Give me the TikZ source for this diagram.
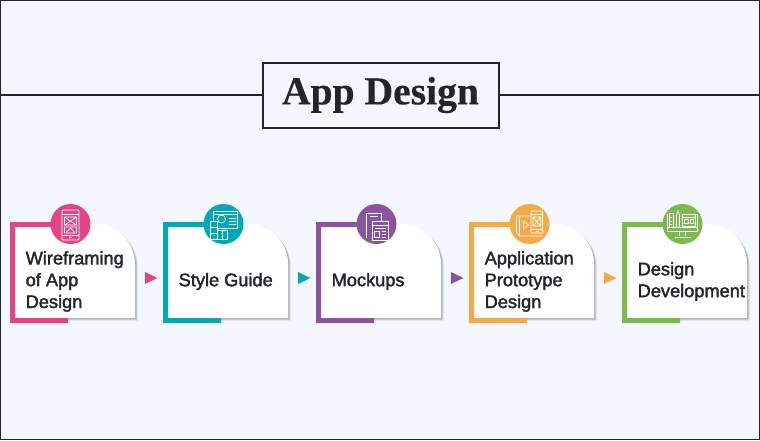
\documentclass[tikz,border=0pt]{standalone}
\usepackage{fontspec}
\setmainfont{Liberation Sans}
\newfontfamily\titlefont{Liberation Serif}[FakeBold=0.3]
\newfontfamily\stepfont{Liberation Sans}[FakeBold=2]
\usetikzlibrary{calc}
\definecolor{pagebg}{HTML}{F4F7FE}
\definecolor{inkdark}{HTML}{22262A}
\definecolor{stepA}{HTML}{E34486}
\definecolor{stepB}{HTML}{00A9B5}
\definecolor{stepC}{HTML}{8A559F}
\definecolor{stepD}{HTML}{F4AB47}
\definecolor{stepE}{HTML}{7FB84E}
\tikzset{
  steptext/.style={anchor=west,align=left,inner sep=0pt,text=inkdark,font=\stepfont\fontsize{18.2}{21.8}\selectfont},
  iconline/.style={draw=white,line width=0.7pt},
  badge/.style={circle,minimum size=40pt,inner sep=0pt},
}
\newcommand{\cardpath}{(5,224) -- (85,224) arc[start angle=-90,end angle=0,radius=40] -- (125,318) -- (5,318) -- cycle}
% icons, drawn round the middle of the badge
\newcommand{\iconA}{
  \draw[iconline,rounded corners=1pt] (-8.5,-14) rectangle (8.5,16);
  \draw[iconline] (-8.5,-10) -- (8.5,-10) (-8.5,11) -- (8.5,11);
  \draw[iconline] (-6,-7) rectangle (6,1) (-6,-7) -- (6,1) (-6,1) -- (6,-7);
  \draw[iconline] (-6,3) rectangle (6,9) (-4,8) -- (0,4) -- (4,8);
  \draw[iconline] (-1.5,13.5) -- (1.5,13.5);
}
\newcommand{\iconB}{
  \draw[iconline] (-10,-13) rectangle (14,4) (-10,-9.5) -- (14,-9.5);
  \draw[iconline] (5,-6) -- (12,-6) (5,-3) -- (12,-3) (5,0) -- (12,0);
  \draw[iconline] (-2,-5) circle (4);
  \draw[iconline,fill=stepB] (-13.5,-3) rectangle (-6,15);
  \draw[iconline] (-13.5,3) -- (-6,3) (-13.5,9) -- (-6,9);
  \draw[iconline,fill=stepB] (-6,6) rectangle (3.5,15) (-1,6) -- (-1,15);
}
\newcommand{\iconC}{
  \draw[iconline] (-10,14) -- (-10,-11) -- (5,-11) -- (5,-3);
  \draw[iconline] (-7,-8) -- (1,-8);
  \draw[iconline,fill=stepC] (-4.5,-3) rectangle (11.5,16);
  \draw[iconline] (-4.5,1) -- (11.5,1) (-2,4) -- (9,4);
  \draw[iconline] (-2,7) rectangle (3,13) (5,7) -- (9,7) (5,10) -- (9,10) (5,13) -- (9,13);
}
\newcommand{\iconD}{
  \draw[iconline] (-13,-8) -- (2,-8) (-13,-8) -- (-13,9) -- (-10,12) -- (13,12) (-10,12) -- (-10,-8);
  \draw[iconline] (-6,-3) -- (-1,1) -- (-6,5) -- cycle;
  \draw[iconline,fill=stepD,rounded corners=1pt] (1.5,-13) rectangle (13,9);
  \draw[iconline] (1.5,-9.5) -- (13,-9.5) (1.5,5) -- (13,5);
  \draw[iconline] (3.5,-7) rectangle (11,2) (3.5,-7) -- (11,2) (3.5,2) -- (11,-7);
  \draw[iconline] (6,7) -- (9,7);
}
\newcommand{\iconE}{
  \draw[iconline] (-15,-10) -- (-15,7) -- (15,7) -- (15,-10) -- (9,-10);
  \draw[iconline] (-15,3.5) -- (15,3.5);
  \draw[iconline] (-3,7) -- (-3,12) (3,7) -- (3,12) (-8,13) -- (8,13);
  \draw[iconline] (-13,-11) rectangle (-9,3.5) (-13,-7) -- (-11,-7) (-13,-3) -- (-11,-3) (-13,0) -- (-11,0);
  \draw[iconline] (-6,3.5) -- (-6,-9) -- (-4.5,-13) -- (-3,-9) -- (-3,3.5);
  \draw[iconline] (-0.5,-10) rectangle (12.5,2) (-0.5,-7) -- (12.5,-7);
  \draw[iconline] (1.5,-5) rectangle (6,-1) (8,-5) rectangle (11,-1);
}
\begin{document}
\begin{tikzpicture}[x=1pt,y=-1pt]
  \useasboundingbox (0,0) rectangle (760,440);
  \fill[pagebg] (0,0) rectangle (760,440);
  \draw[inkdark,line width=1.5pt] (0.5,0.5) rectangle (759.5,439.5);
  \node[draw=inkdark,line width=2pt,minimum width=236pt,minimum height=65pt,inner sep=0pt,
    text=inkdark,font=\titlefont\bfseries\fontsize{39.6}{40}\selectfont] (titlebox) at (380.5,95) {App Design};
  \coordinate (ruleleft) at (0,95);
  \coordinate (ruleright) at (760,95);
  \draw[inkdark,line width=1.5pt] (ruleleft) -- (titlebox) (titlebox) -- (ruleright);
  % the five cards
  \foreach \i/\xx/\col/\ic/\txt in {
    1/10/stepA/iconA/{Wireframing\\of App\\Design},
    2/163/stepB/iconB/{Style Guide},
    3/316/stepC/iconC/{Mockups},
    4/469/stepD/iconD/{Application\\Prototype\\Design},
    5/622/stepE/iconE/{Design\\Development}} {
    \begin{scope}[shift={(\xx,0)}]
      % soft shadow, then the white body
      \foreach \s/\o in {3/0.06,2.2/0.10,1.4/0.14}
        \fill[black,opacity=\o,shift={(\s,\s)}] \cardpath;
      \fill[white] \cardpath;
      \fill[\col] (0,222) -- (60,222) -- (60,227) -- (5,227) -- (5,318) -- (58,318) -- (58,323) -- (0,323) -- cycle;
      \node[badge,fill=\col] (badge\i) at (60.5,224) {};
      \node[steptext] (label\i) at (15.5,281.5) {\txt};
      \begin{scope}[shift={(60.5,224)}]
        \csname\ic\endcsname
      \end{scope}
    \end{scope}
  }
  % small arrows between the cards
  \foreach \xx/\col in {145/stepA,298/stepB,451/stepC,604/stepD}
    \fill[\col] (\xx,272) -- (\xx+12.5,278) -- (\xx,284) -- cycle;
\end{tikzpicture}
\end{document}
